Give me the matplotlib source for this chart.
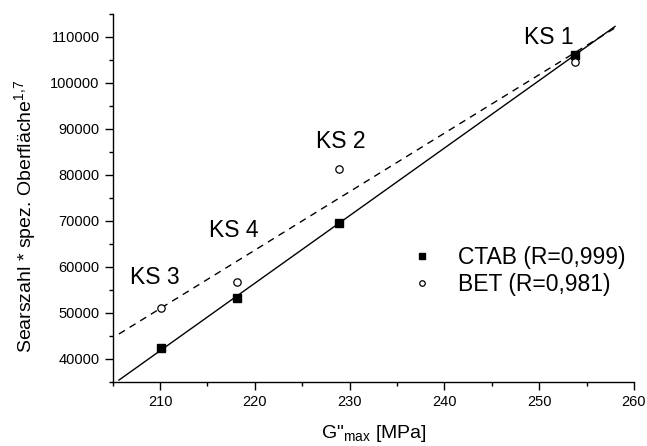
import matplotlib
matplotlib.use('Agg')
import matplotlib.pyplot as plt
from matplotlib.ticker import MultipleLocator
import numpy as np

plt.rcParams['font.family'] = ['Liberation Sans', 'DejaVu Sans']

# Daten
g_max = [210.13, 218.08, 228.84, 253.74]
ctab = [42200, 53200, 69400, 106100]
bet = [51000, 56700, 81300, 104600]
names = ['KS 3', 'KS 4', 'KS 2', 'KS 1']
label_x = [209.43, 217.72, 229.09, 251.05]
label_y = [57570, 67970, 87210, 109820]
fit_range = [205.66, 258.0]

fig = plt.figure(figsize=(6.47, 4.46), dpi=100)
ax = fig.add_axes([0.1742, 0.1446, 0.8057, 0.824])

# lineare Regression
xf = np.array(fit_range)
p_ctab = np.polyfit(g_max, ctab, 1)
p_bet = np.polyfit(g_max, bet, 1)
ax.plot(xf, np.polyval(p_ctab, xf), color='black', lw=1.0)
ax.plot(xf, np.polyval(p_bet, xf), color='black', lw=1.0, dashes=(5, 4))

ax.plot(g_max, ctab, 's', color='black', ms=5.3, label='CTAB (R=0,999)')
ax.plot(g_max, bet, 'o', mfc='white', mec='black', mew=0.9, ms=5.3, label='BET (R=0,981)')

for n, lx, ly in zip(names, label_x, label_y):
    ax.text(lx, ly, n, fontsize=16.5, ha='center', va='center')

ax.set_xlim(205, 260)
ax.set_ylim(35000, 115000)
ax.xaxis.set_major_locator(MultipleLocator(10))
ax.xaxis.set_minor_locator(MultipleLocator(5))
ax.yaxis.set_major_locator(MultipleLocator(10000))
ax.yaxis.set_minor_locator(MultipleLocator(5000))
ax.spines['top'].set_visible(False)
ax.spines['right'].set_visible(False)
ax.spines['left'].set_linewidth(1.0)
ax.spines['bottom'].set_linewidth(1.0)
ax.tick_params(which='major', length=5.5, width=1.0, labelsize=10.5, pad=4)
ax.tick_params(which='minor', length=3, width=1.0)

ax.set_xlabel('G"$_{\\mathregular{max}}$ [MPa]', fontsize=14, labelpad=10)
ax.set_ylabel('Searszahl * spez. Oberfläche$^{\\mathregular{1{,}7}}$', fontsize=14)
ax.yaxis.set_label_coords(-0.141, 0.45)

ax.legend(loc='center left', bbox_to_anchor=(410.2 / 647, (446 - 270.85) / 446),
          bbox_transform=fig.transFigure, frameon=False, fontsize=16.5,
          handlelength=1.0, handletextpad=1.1, labelspacing=0.2, borderpad=0,
          borderaxespad=0, markerscale=0.75)

fig.savefig('out.png', dpi=100)
